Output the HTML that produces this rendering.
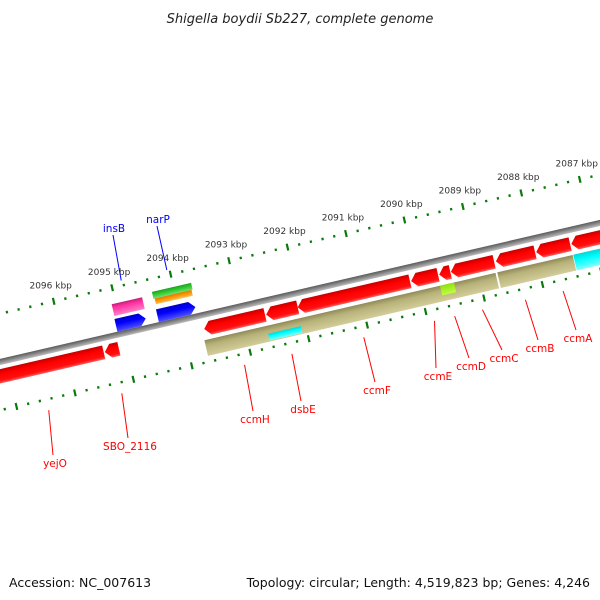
<!DOCTYPE html>
<html><head><meta charset="utf-8"><style>
html,body{margin:0;padding:0;background:#fff;}
svg{display:block;font-family:"DejaVu Sans","Liberation Sans",sans-serif;}
</style></head><body>
<svg id="map" width="600" height="600" viewBox="0 0 600 600" xmlns="http://www.w3.org/2000/svg">
<defs>
<linearGradient id="gRed" x1="0" y1="0" x2="0" y2="1"><stop offset="0" stop-color="#c80000"/><stop offset="0.35" stop-color="#ff0000"/><stop offset="0.8" stop-color="#ff1010"/><stop offset="1" stop-color="#ff6060"/></linearGradient>
<linearGradient id="gKhaki" x1="0" y1="0" x2="0" y2="1"><stop offset="0" stop-color="#8f8a58"/><stop offset="0.35" stop-color="#b8b27a"/><stop offset="1" stop-color="#d2cd9a"/></linearGradient>
<linearGradient id="gCyan" x1="0" y1="0" x2="0" y2="1"><stop offset="0" stop-color="#00d8d8"/><stop offset="0.4" stop-color="#00ffff"/><stop offset="1" stop-color="#80ffff"/></linearGradient>
<linearGradient id="gLime" x1="0" y1="0" x2="0" y2="1"><stop offset="0" stop-color="#90e010"/><stop offset="1" stop-color="#c0ff40"/></linearGradient>
<linearGradient id="gBlue" x1="0" y1="0" x2="0" y2="1"><stop offset="0" stop-color="#0000c8"/><stop offset="0.4" stop-color="#0000ff"/><stop offset="1" stop-color="#5050ff"/></linearGradient>
<linearGradient id="gPink" x1="0" y1="0" x2="0" y2="1"><stop offset="0" stop-color="#c0207a"/><stop offset="0.3" stop-color="#ff30a0"/><stop offset="1" stop-color="#ff80c8"/></linearGradient>
<linearGradient id="gGreen" x1="0" y1="0" x2="0" y2="1"><stop offset="0" stop-color="#20a020"/><stop offset="0.5" stop-color="#33cc33"/><stop offset="1" stop-color="#70e070"/></linearGradient>
<linearGradient id="gOrange" x1="0" y1="0" x2="0" y2="1"><stop offset="0" stop-color="#e07800"/><stop offset="0.5" stop-color="#ff9900"/><stop offset="1" stop-color="#ffc060"/></linearGradient>
<linearGradient id="gGray" x1="0" y1="0" x2="0" y2="1"><stop offset="0" stop-color="#5a5a5a"/><stop offset="0.5" stop-color="#8a8a8a"/><stop offset="1" stop-color="#bdbdbd"/></linearGradient>
</defs>
<text x="300" y="23" text-anchor="middle" font-size="13" font-style="italic" fill="#222">Shigella boydii Sb227, complete genome</text>
<g id="track" transform="translate(0,362) rotate(-13.05)"></g>
<g id="labels"></g>
<text x="9" y="587" font-size="12.5" fill="#111">Accession: NC_007613</text>
<text x="590" y="587" text-anchor="end" font-size="12.5" fill="#111">Topology: circular; Length: 4,519,823 bp; Genes: 4,246</text>
</svg>
<script>
// ---- data (kbp positions) ----
const tickStart = 2086.2;
const tickEnd = 2097.4;
const tickLabels = [2096,2095,2094,2093,2092,2091,2090,2089,2088,2087];
const revGenes = ["yejO","SBO_2116","ccmH","dsbE","ccmF","ccmE","ccmD","ccmC","ccmB","ccmA","ccmA2"];
const revStart = [2097.6,2095.36,2093.66,2092.60,2092.06,2090.12,2089.64,2089.44,2088.67,2087.98,2087.38];
const revEnd   = [2095.38,2095.12,2092.62,2092.06,2090.14,2089.66,2089.45,2088.70,2088.00,2087.40,2086.3];
const khakiStart = [2093.70,2088.69];
const khakiEnd   = [2088.72,2087.40];
const cyanStart = [2087.39,2092.64];
const cyanEnd   = [2086.3,2092.08];
const limeStart = [2089.67];
const limeEnd   = [2089.43];
const fwdGenes = ["insB","narP"];
const fwdStart = [2095.08,2094.37];
const fwdEnd   = [2094.57,2093.72];
const pinkStart=[2095.07], pinkEnd=[2094.55];
const greenStart=[2094.37], greenEnd=[2093.70];
// label placements (screen) for gene annotations
const redLabelGenes = ["yejO","SBO_2116","ccmH","dsbE","ccmF","ccmE","ccmD","ccmC","ccmB","ccmA"];
const redLabelX = [55,130,255,303,377,438,471,504,540,578];
const redLabelY = [467,450,423,413,394,380,370,362,352,342];
const blueLabelX = [114,158];
const blueLabelY = [232,223];

// ---- scale / geometry ----
const C = Math.cos(13.05*Math.PI/180), S = Math.sin(13.05*Math.PI/180);
function U(kbp){ return 66 + (2096 - kbp) * 60; }
function toScreen(u,v){ return [u*C + v*S, 362 - u*S + v*C]; }
const NS="http://www.w3.org/2000/svg";
const track=document.getElementById('track');
const labels=document.getElementById('labels');
function mk(tag,attrs,parent){const e=document.createElementNS(NS,tag);for(const k in attrs)e.setAttribute(k,attrs[k]);parent.appendChild(e);return e;}

// backbone
let bb=mk('rect',{x:-200,y:-3,width:1200,height:6,fill:'url(#gGray)'},track);



function bar(s,e,v0,v1,fill,name){
  const a=U(s),b=U(e);
  const r=mk('rect',{x:Math.min(a,b),y:v0,width:Math.abs(b-a),height:v1-v0,fill:fill},track);
  
  
}
function arrow(s,e,v0,v1,fill,name,dir){
  let a=U(s),b=U(e); const lo=Math.min(a,b),hi=Math.max(a,b);
  const m=(v0+v1)/2, t=Math.min(6,(hi-lo)*0.6);
  let pts;
  if(dir<0) pts=[[lo,m],[lo+t,v0],[hi,v0],[hi,v1],[lo+t,v1]];
  else pts=[[lo,v0],[hi-t,v0],[hi,m],[hi-t,v1],[lo,v1]];
  const p=mk('polygon',{points:pts.map(q=>q.join(',')).join(' '),fill:fill},track);
  
  
}
for(let i=0;i<revGenes.length;i++){
  arrow(revStart[i],revEnd[i],7,21,'url(#gRed)','gene-'+revGenes[i].toLowerCase(),-1);
}
for(let i=0;i<khakiStart.length;i++) bar(khakiStart[i],khakiEnd[i],25,41,'url(#gKhaki)','cds-block-'+i);
bar(cyanStart[0],cyanEnd[0],25,41,'url(#gCyan)','cyan-block-right');
bar(cyanStart[1],cyanEnd[1],33,40,'url(#gCyan)','cyan-block-dsbe');
bar(limeStart[0],limeEnd[0],25,35,'url(#gLime)','lime-block-ccme');
for(let i=0;i<pinkStart.length;i++) bar(pinkStart[i],pinkEnd[i],-31,-19,'url(#gPink)','pink-feature-insb');
for(let i=0;i<greenStart.length;i++){ bar(greenStart[i],greenEnd[i],-34,-27,'url(#gGreen)','green-feature-narp'); bar(greenStart[i]-0.02,greenEnd[i]+0.02,-27,-21,'url(#gOrange)','orange-feature-narp'); }
for(let i=0;i<fwdGenes.length;i++) arrow(fwdStart[i],fwdEnd[i],-16,-3,'url(#gBlue)','gene-'+fwdGenes[i].toLowerCase(),1);

// ticks
const nT=Math.round((tickEnd-tickStart)/0.2);
for(let i=0;i<=nT;i++){
  const k=tickStart+i*0.2, u=U(k);
  const major=Math.abs(k-Math.round(k))<0.01;
  [-47,47].forEach(v=>{
    const h=major?7:2.5;
    const r=mk('rect',{x:u-1.1,y:v-h/2,width:2.2,height:h,fill:'#0a7a0a'},track);
    
    
  });
}
tickLabels.forEach(k=>{
  const p=toScreen(U(k),-47);
  const t=mk('text',{x:p[0]-3,y:p[1]-13,'text-anchor':'middle','font-size':'9',fill:'#333'},labels);
  t.textContent=k+' kbp';
  
  
});

redLabelGenes.forEach((g,i)=>{
  const idx=revGenes.indexOf(g);
  const mid=(U(revStart[idx])+U(revEnd[idx]))/2;
  const p=toScreen(mid,58);
  const ln=mk('line',{x1:p[0],y1:p[1],x2:redLabelX[i]-2,y2:redLabelY[i]-12,stroke:'#ff0000','stroke-width':'1'},labels);
  
  
  const t=mk('text',{x:redLabelX[i],y:redLabelY[i],'text-anchor':'middle','font-size':'10.5',fill:'#ff0000'},labels);
  t.textContent=g;
  
  
});
fwdGenes.forEach((g,i)=>{
  const mid=(U(fwdStart[i])+U(fwdEnd[i]))/2;
  const p=toScreen(mid,-52);
  const ln=mk('line',{x1:p[0],y1:p[1],x2:blueLabelX[i]-1,y2:blueLabelY[i]+3,stroke:'#0000ff','stroke-width':'1'},labels);
  
  
  const t=mk('text',{x:blueLabelX[i],y:blueLabelY[i],'text-anchor':'middle','font-size':'10.5',fill:'#0000ff'},labels);
  t.textContent=g;
  
  
});
</script>
</body></html>
